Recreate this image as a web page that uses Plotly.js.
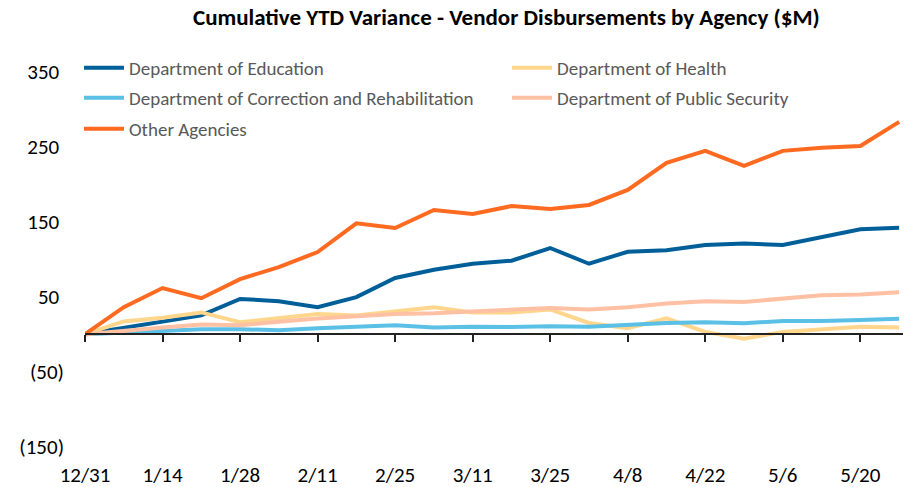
<!DOCTYPE html>
<html>
<head>
<meta charset="utf-8">
<script src="https://cdn.plot.ly/plotly-3.0.1.min.js"></script>
<style>html,body{margin:0;padding:0;background:#fff;}#chart{width:905px;height:487px;}</style>
</head>
<body>
<div id="chart"></div>
<script>
const dates = ["12/31","1/7","1/14","1/21","1/28","2/4","2/11","2/18","2/25","3/4","3/11","3/18","3/25","4/1","4/8","4/15","4/22","4/29","5/6","5/13","5/20","5/27"];
const tickDates = ["12/31","1/14","1/28","2/11","2/25","3/11","3/25","4/8","4/22","5/6","5/20"];

const education  = [0, 8, 16, 25, 47, 44, 36, 49.5, 75, 86, 94, 98, 115, 94, 110, 112, 119, 121, 119, 130, 140, 142];
const health     = [0, 17, 22, 29, 16, 21, 27, 25, 31, 36, 29, 29, 33, 15, 8, 21, 3, -6, 3, 7, 10, 9];
const correction = [0, 2, 4, 6.5, 6.5, 5.3, 8, 10, 12, 9, 10, 9.4, 10.7, 10, 12.8, 15, 16, 14.7, 17.4, 17.4, 19, 20.5];
const publicSec  = [0, 5, 9, 13, 12, 16.5, 21, 24, 27, 28, 30, 32.6, 35, 33, 36, 41, 44, 43, 47.5, 52, 53, 56];
const other      = [0, 36, 61.5, 48, 73.5, 89.6, 109.6, 148, 141.7, 165.8, 160.4, 171, 167, 172.5, 192.5, 228.6, 244.7, 224.6, 244.7, 248.7, 251.3, 283.4];

const yTickVals = [-150, -50, 50, 150, 250, 350];
const yTickText = ["(150)", "(50)", "50\u00a0", "150\u00a0", "250\u00a0", "350\u00a0"];

const names = ["Department of Education", "Department of Health", "Department of Correction and Rehabilitation", "Department of Public Security", "Other Agencies"];
const colors = ["#005F99", "#FFD68C", "#5BC0E6", "#FFC0A3", "#FF6A21"];
const seriesList = [education, health, correction, publicSec, other];
const legendIds = ["legend", "legend2", "legend3", "legend4", "legend5"];

const FONT = "Carlito, Calibri, Lato, sans-serif";
const yMin = -160, yMax = 370;

const traces = seriesList.map((s, i) => ({
  type: "scatter", mode: "lines", x: dates, y: s, name: names[i],
  line: {color: colors[i], width: 4}, legend: legendIds[i], hoverinfo: "x+y+name"
}));
// invisible trace to carry the zero-line axis
traces.push({type: "scatter", mode: "lines", x: dates, y: education, xaxis: "x2",
  opacity: 0, showlegend: false, hoverinfo: "skip", line: {width: 0}});

const plotL = 85, plotR = 903, plotT = 57, plotB = 454;
const pw = plotR - plotL, ph = plotB - plotT;
function lx(px) { return (px - plotL) / pw; }
function ly(py) { return (plotB - py) / ph; }
function leg(px, py) {
  return {x: lx(px), y: ly(py), xanchor: "left", yanchor: "middle", orientation: "h",
    bgcolor: "rgba(0,0,0,0)", borderwidth: 0, itemwidth: 40,
    font: {family: FONT, size: 19, color: "#595959"}};
}

const layout = {
  width: 905, height: 487,
  margin: {l: plotL, r: 905 - plotR, t: plotT, b: 487 - plotB, pad: 0},
  paper_bgcolor: "#fff", plot_bgcolor: "#fff",
  title: {text: "<b>Cumulative YTD Variance - Vendor Disbursements by Agency ($M)</b>",
    font: {family: FONT, size: 23, color: "#000"}, x: 0.5595, xanchor: "center", y: 0.965, yanchor: "middle"},
  xaxis: {type: "category", range: [0, 21.1], tickvals: tickDates, ticktext: tickDates,
    showgrid: false, zeroline: false, showline: false, ticks: "outside", ticklen: 2,
    tickcolor: "rgba(0,0,0,0)", tickfont: {family: FONT, size: 21, color: "#000"}, fixedrange: true},
  xaxis2: {type: "category", overlaying: "x", anchor: "free", position: (0 - yMin) / (yMax - yMin),
    range: [0, 21.1], tickvals: tickDates, showticklabels: false, showgrid: false, zeroline: false,
    showline: true, linecolor: "#222", linewidth: 1.5, ticks: "outside", ticklen: 7, tickwidth: 1.5,
    tickcolor: "#222", fixedrange: true},
  yaxis: {range: [yMin, yMax], tickvals: yTickVals, ticktext: yTickText, showgrid: false,
    zeroline: false, showline: false, ticks: "", ticklabelstandoff: 20,
    tickfont: {family: FONT, size: 21, color: "#000"}, fixedrange: true},
  showlegend: true,
  legend: leg(79, 68),
  legend2: leg(507, 68),
  legend3: leg(79, 98),
  legend4: leg(507, 98),
  legend5: leg(79, 129)
};

Plotly.newPlot("chart", traces, layout, {displayModeBar: false, staticPlot: false});
</script>
</body>
</html>
